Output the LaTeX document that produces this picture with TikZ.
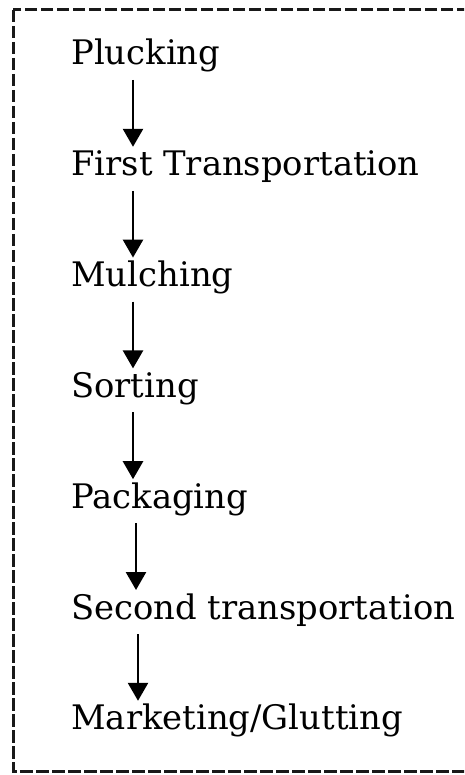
\documentclass[tikz,border=0pt]{standalone}
\usepackage{fontspec}
\setmainfont{DejaVu Serif}
\usetikzlibrary{positioning,arrows.meta}
\tikzstyle{stage} = [anchor=base west, inner sep=0pt, font=\fontsize{33.8}{40}\selectfont]
\tikzstyle{frame} = [-, draw=black!90, line width=3pt, dash pattern=on 12.5pt off 3.5pt]

\begin{document}
\begin{tikzpicture}[x=1pt,y=-1pt,->,>={Triangle[width=20pt,length=18pt]},line width=2.6pt,node distance=110.8pt]
  \clip (0,0) rectangle (464,775);
  \node[stage] (pluck) at (70,65) {Plucking};
  \node[below=of pluck.base west, stage] (first) {First Transportation};
  \node[below=of first.base west, stage] (mulch) {Mulching};
  \node[below=of mulch.base west, stage] (sort) {Sorting};
  \node[below=of sort.base west, stage] (pack) {Packaging};
  \node[below=of pack.base west, stage] (second) {Second transportation};
  \node[below=of second.base west, stage] (market) {Marketing/Glutting};

  \draw ([xshift=63pt,yshift=-15pt]pluck.base west) -- ([xshift=63pt,yshift=29pt]first.base west);
  \draw ([xshift=63pt,yshift=-15pt]first.base west) -- ([xshift=63pt,yshift=29pt]mulch.base west);
  \draw ([xshift=63pt,yshift=-15pt]mulch.base west) -- ([xshift=63pt,yshift=29pt]sort.base west);
  \draw ([xshift=63pt,yshift=-15pt]sort.base west) -- ([xshift=63pt,yshift=29pt]pack.base west);
  \draw ([xshift=66pt,yshift=-15pt]pack.base west) -- ([xshift=66pt,yshift=29pt]second.base west);
  \draw ([xshift=68pt,yshift=-15pt]second.base west) -- ([xshift=68pt,yshift=29pt]market.base west);

  \draw[frame] (13,10) rectangle (480,771);
\end{tikzpicture}
\end{document}
